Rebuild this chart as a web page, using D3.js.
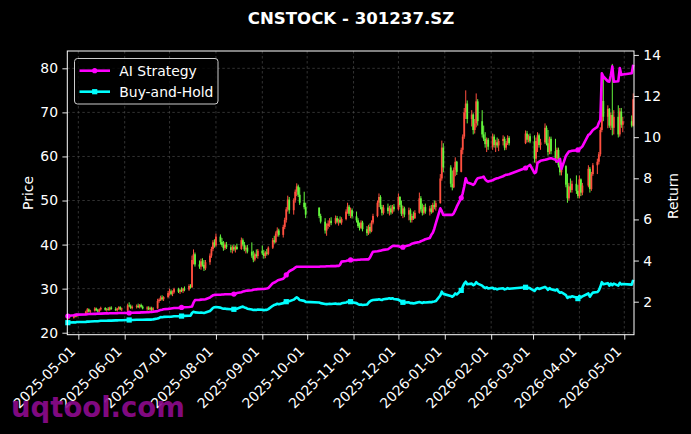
<!DOCTYPE html>
<html><head><meta charset="utf-8">
<script src="https://cdn.jsdelivr.net/npm/d3@7"></script>
<style>html,body{margin:0;padding:0;background:#000;}svg{display:block;}</style>
</head><body><svg id="c" width="691" height="434"></svg>
<script>
// ---------- DATA ----------
const titleText = "CNSTOCK - 301237.SZ";
const startDay = "2025-04-24";
const endDay = "2026-05-07";
const holidays = ["2025-05-01","2025-05-02","2025-05-05","2025-06-02",
  "2025-10-01","2025-10-02","2025-10-03","2025-10-06","2025-10-07","2025-10-08",
  "2026-01-01","2026-01-02","2026-02-16","2026-02-17","2026-02-18","2026-02-19","2026-02-20","2026-02-23",
  "2026-04-06","2026-05-01","2026-05-04","2026-05-05"];

const openP = [23.2,23.5,23.4,24.0,23.7,
 24.2,24.8,25.3,24.8,25.0,25.5,25.1,24.8,25.3,25.6,25.2,25.4,25.2,25.7,25.4,25.1,25.5,25.8,25.3,
 25.0,26.2,26.0,25.6,25.9,26.1,25.8,26.3,25.9,25.5,25.7,25.3,25.6,25.2,25.5,27.2,27.5,28.0,27.6,28.1,
 29.0,29.4,28.8,29.2,29.9,29.3,29.7,29.5,30.0,29.8,30.6,30.3,36.5,37.8,35.5,35.0,36.2,35.4,34.6,36.0,37.5,39.0,40.5,
 39.8,41.8,40.6,39.9,39.2,40.0,39.4,38.8,39.4,38.9,39.5,39.0,41.0,40.0,38.9,39.3,38.4,37.5,36.6,37.8,37.4,
 38.6,38.0,37.4,38.2,37.9,39.3,41.0,40.6,42.5,43.2,42.2,44.0,45.6,48.0,50.2,47.8,50.0,52.0,53.2,51.3,49.5,48.5,
 48.4,46.5,45.2,43.2,44.2,44.8,45.4,44.9,46.0,45.2,45.6,45.0,45.8,47.5,48.6,47.0,47.8,
 46.4,45.5,44.2,43.8,45.0,43.5,42.6,44.0,43.0,45.0,46.5,49.5,50.8,48.5,47.2,48.4,47.6,48.2,47.3,48.6,
 48.0,50.8,49.0,47.0,48.2,46.8,47.8,45.6,46.5,46.0,47.2,50.5,48.0,47.2,48.5,47.5,48.2,47.4,49.0,48.5,49.4,55.0,62.0,
 57.5,53.8,53.0,57.0,58.8,56.5,61.5,64.5,70.0,72.0,68.5,69.5,66.0,67.5,72.5,68.0,65.0,64.0,62.8,63.8,
 62.2,64.5,62.6,63.2,62.5,63.5,64.0,62.0,63.0,64.2,63.0,65.2,63.8,64.6,
 63.4,59.5,63.5,64.8,62.6,63.2,66.5,63.0,61.0,64.0,61.2,59.5,61.5,58.0,56.4,57.8,53.6,50.5,53.2,52.4,53.8,52.2,
 51.0,54.8,51.8,53.4,57.2,52.6,56.0,58.0,58.8,60.5,66.0,72.6,69.0,70.8,67.0,69.4,66.5,69.0,65.0,70.2,67.2,
 68.0,67.0];
const highP = [23.8,24.0,24.2,24.3,24.4,
 25.0,25.6,25.5,25.2,25.8,25.7,25.4,25.5,25.9,25.8,25.6,25.8,25.9,26.0,25.8,25.6,26.0,26.0,25.7,
 26.6,26.9,26.4,26.2,26.4,26.6,26.5,26.6,26.2,26.0,26.0,25.9,25.9,25.8,27.7,27.8,28.4,28.5,28.3,29.5,
 30.0,29.8,29.6,30.2,30.2,30.0,30.3,30.2,30.5,31.0,31.0,37.5,38.9,38.2,36.4,36.8,36.9,36.5,36.5,38.0,39.5,41.0,41.2,
 42.5,42.3,41.5,40.8,40.5,40.6,40.0,39.8,40.0,39.8,40.2,41.6,41.4,40.6,39.8,39.9,40.5,38.6,38.2,38.9,39.0,
 39.8,38.8,38.5,39.0,39.6,41.5,42.0,43.0,43.9,43.6,44.5,46.1,48.5,51.1,50.8,50.5,52.5,53.9,53.6,53.0,52.0,49.5,
 48.4,47.0,46.0,44.8,45.5,46.0,46.2,46.6,46.5,45.9,46.4,46.2,48.0,49.5,49.0,48.4,48.2,
 47.5,46.0,45.0,45.5,45.4,44.2,44.5,44.8,45.5,47.0,50.0,51.6,51.2,49.0,49.0,49.3,48.8,49.0,49.0,49.2,
 51.6,51.0,50.0,48.8,48.6,48.4,48.2,47.0,47.5,47.8,51.8,51.0,49.3,49.0,49.3,48.8,49.0,49.5,50.0,50.0,56.0,63.6,63.0,
 58.0,56.8,57.5,59.8,59.0,62.0,65.0,71.0,75.0,72.7,70.5,69.8,68.5,74.3,73.0,70.5,67.0,65.5,64.3,64.2,
 65.2,65.0,63.8,64.3,64.0,64.8,64.5,63.5,64.8,64.6,65.9,65.8,65.0,65.2,
 64.8,64.3,65.5,65.2,64.0,67.5,67.0,66.0,64.5,64.5,64.0,62.0,62.0,59.5,58.5,58.0,56.1,54.0,55.0,54.5,55.7,53.5,
 55.7,55.0,54.0,58.0,57.6,56.5,58.5,59.5,61.0,66.6,79.0,78.0,71.6,71.0,70.0,81.0,70.5,71.6,71.0,71.0,69.0,
 69.3,74.3];
const lowP = [22.9,23.2,23.2,23.5,23.5,
 24.0,24.5,24.6,24.4,24.8,24.9,24.6,24.6,25.0,25.0,24.8,25.0,25.0,25.2,24.9,24.8,25.2,25.1,24.9,
 24.5,25.8,25.4,25.3,25.5,25.6,25.5,25.7,25.3,25.0,25.1,25.0,24.9,24.9,25.4,26.8,27.2,27.3,27.2,27.8,
 28.4,28.5,28.3,28.9,29.0,28.8,29.2,29.0,29.4,29.5,30.0,30.2,35.5,35.0,34.5,34.3,35.0,34.0,34.2,35.4,37.0,38.5,39.3,
 39.5,40.0,39.5,38.6,38.8,39.0,38.2,38.0,38.5,38.2,38.8,38.8,39.6,38.5,38.0,38.0,37.0,36.0,36.2,37.0,36.8,
 37.6,36.8,36.9,37.5,37.6,39.0,40.2,40.3,41.8,41.8,41.6,43.5,45.0,47.5,47.0,46.8,49.5,51.0,50.8,49.0,48.0,46.0,
 46.0,44.8,42.5,42.0,43.6,44.0,44.4,44.6,44.8,44.3,44.8,44.5,45.5,47.0,46.5,46.0,45.9,
 45.0,43.8,43.2,43.5,43.0,42.0,42.2,42.5,42.8,44.6,46.2,48.5,48.0,46.6,46.8,47.0,46.6,46.8,47.0,47.5,
 47.7,48.5,46.5,46.0,46.2,45.5,45.0,45.0,45.6,45.8,47.0,47.5,46.6,46.8,47.0,46.6,47.0,47.2,48.0,47.7,49.3,54.5,56.4,
 53.0,52.3,52.8,55.5,55.8,56.4,60.5,64.0,68.5,67.5,66.8,65.0,65.2,66.6,67.0,64.3,63.5,62.0,61.0,61.5,
 61.5,62.0,61.0,62.0,61.2,62.5,61.4,61.5,62.6,62.5,62.8,63.2,63.2,63.0,
 58.6,58.4,61.0,62.0,61.5,62.8,62.5,60.2,60.5,60.5,58.6,59.0,57.5,55.7,55.7,53.0,49.5,50.0,51.8,51.8,51.5,50.5,
 50.5,51.0,51.2,53.0,51.8,52.2,55.6,56.0,58.2,60.0,65.5,68.0,66.4,66.5,66.0,64.8,65.0,64.3,64.5,66.5,65.5,
 66.6,66.8];
const closeP = [23.5,23.4,24.0,23.7,24.2,
 24.8,25.3,24.8,25.0,25.5,25.1,24.8,25.3,25.6,25.2,25.4,25.2,25.7,25.4,25.1,25.5,25.8,25.3,25.5,
 26.2,26.0,25.6,25.9,26.1,25.8,26.3,25.9,25.5,25.7,25.3,25.6,25.2,25.5,27.2,27.5,28.0,27.6,28.1,29.0,
 29.4,28.8,29.2,29.9,29.3,29.7,29.5,30.0,29.8,30.6,30.3,36.5,37.8,35.5,35.0,36.2,35.4,34.6,36.0,37.5,39.0,40.5,39.8,
 41.8,40.6,39.9,39.2,40.0,39.4,38.8,39.4,38.9,39.5,39.0,41.0,40.0,38.9,39.3,38.4,37.5,36.6,37.8,37.4,38.6,
 38.0,37.4,38.2,37.9,39.3,41.0,40.6,42.5,43.2,42.2,44.0,45.6,48.0,50.2,47.8,50.0,52.0,53.2,51.3,49.5,48.5,46.8,
 46.5,45.2,43.2,44.2,44.8,45.4,44.9,46.0,45.2,45.6,45.0,45.8,47.5,48.6,47.0,47.8,46.4,
 45.5,44.2,43.8,45.0,43.5,42.6,44.0,43.0,45.0,46.5,49.5,50.8,48.5,47.2,48.4,47.6,48.2,47.3,48.6,48.0,
 50.8,49.0,47.0,48.2,46.8,47.8,45.6,46.5,46.0,47.2,50.5,48.0,47.2,48.5,47.5,48.2,47.4,49.0,48.5,49.4,55.0,62.0,57.5,
 53.8,53.0,57.0,58.8,56.5,61.5,64.5,70.0,72.0,68.5,69.5,66.0,67.5,72.5,68.0,65.0,64.0,62.8,63.8,62.2,
 64.5,62.6,63.2,62.5,63.5,64.0,62.0,63.0,64.2,63.0,65.2,63.8,64.6,63.4,
 59.5,63.5,64.8,62.6,63.2,66.5,63.0,61.0,64.0,61.2,59.5,61.5,58.0,56.4,57.8,53.6,50.5,53.2,52.4,53.8,52.2,51.0,
 54.8,51.8,53.4,57.2,52.6,56.0,58.0,58.8,60.5,66.0,72.6,69.0,70.8,67.0,69.4,66.5,69.0,65.0,70.2,67.2,68.0,
 67.0,73.0];
const aiStrategy = [1.30,1.32,1.34,1.36,1.37,
 1.38,1.39,1.40,1.40,1.41,1.41,1.42,1.42,1.42,1.43,1.43,1.43,1.44,1.44,1.44,1.44,1.45,1.45,1.45,
 1.45,1.45,1.46,1.46,1.47,1.47,1.47,1.48,1.48,1.49,1.49,1.50,1.50,1.51,1.54,1.57,1.60,1.61,1.63,1.65,
 1.66,1.67,1.68,1.69,1.70,1.71,1.72,1.72,1.73,1.74,1.75,1.77,1.95,2.08,2.09,2.10,2.11,2.11,2.12,2.20,2.26,2.31,2.33,
 2.34,2.34,2.35,2.35,2.36,2.36,2.36,2.37,2.37,2.38,2.42,2.46,2.49,2.51,2.53,2.54,2.56,2.58,2.59,2.60,2.61,
 2.62,2.62,2.63,2.64,2.66,2.90,2.93,2.97,3.02,3.06,3.12,3.20,3.30,3.40,3.48,3.60,3.66,3.70,3.70,3.70,3.70,3.70,
 3.70,3.71,3.71,3.72,3.72,3.72,3.73,3.73,3.74,3.74,3.80,3.95,3.98,4.00,4.01,4.03,4.03,
 4.03,4.04,4.04,4.05,4.05,4.06,4.06,4.15,4.30,4.43,4.45,4.47,4.48,4.50,4.52,4.55,4.60,4.65,4.71,4.72,
 4.70,4.67,4.65,4.65,4.68,4.74,4.78,4.82,4.84,4.86,4.90,4.94,4.97,5.00,5.04,5.10,5.25,5.35,5.55,5.81,6.54,6.40,6.22,
 6.22,6.22,6.30,6.45,6.62,7.05,7.27,7.60,8.00,7.80,7.72,7.68,7.75,7.90,8.00,8.05,8.08,7.95,7.88,7.84,
 7.90,7.95,7.98,8.00,8.02,8.10,8.14,8.17,8.18,8.20,8.50,8.55,8.60,8.65,
 8.25,8.30,8.75,8.80,8.85,8.90,8.92,8.94,8.96,8.98,8.90,8.81,8.85,8.95,8.45,9.10,9.20,9.30,9.32,9.34,9.36,9.38,
 9.42,9.48,9.55,10.11,10.15,10.25,10.35,10.50,10.70,10.84,13.11,12.95,12.72,12.70,13.00,13.44,12.70,12.72,13.36,13.03,13.05,
 13.11,13.52];
const buyHold = [0.98,0.99,1.00,0.99,1.01,
 1.02,1.03,1.03,1.04,1.05,1.05,1.05,1.06,1.07,1.07,1.07,1.08,1.08,1.08,1.09,1.09,1.10,1.10,1.10,
 1.11,1.11,1.11,1.11,1.12,1.12,1.12,1.12,1.12,1.13,1.13,1.13,1.13,1.14,1.18,1.21,1.25,1.24,1.26,1.27,
 1.27,1.27,1.28,1.29,1.29,1.30,1.30,1.31,1.31,1.32,1.32,1.45,1.51,1.48,1.46,1.47,1.46,1.45,1.47,1.55,1.62,1.70,1.73,
 1.74,1.71,1.68,1.66,1.67,1.65,1.63,1.64,1.63,1.65,1.66,1.74,1.76,1.72,1.70,1.66,1.62,1.60,1.61,1.60,1.62,
 1.61,1.59,1.60,1.60,1.64,1.80,1.84,1.86,1.90,1.88,1.93,1.98,2.00,2.05,2.02,2.10,2.16,2.21,2.16,2.08,2.04,1.99,
 1.96,1.93,1.89,1.88,1.89,1.90,1.89,1.91,1.89,1.90,1.89,1.92,1.96,2.00,1.98,2.00,1.97,
 1.93,1.88,1.85,1.86,1.84,1.86,1.95,2.02,2.06,2.08,2.10,2.12,2.10,2.08,2.12,2.15,2.17,2.14,2.17,2.13,
 2.10,2.05,2.00,1.97,1.96,1.97,1.93,1.93,1.92,1.93,1.98,1.96,1.94,1.97,1.96,1.98,1.97,2.00,2.01,2.03,2.30,2.49,2.38,
 2.28,2.24,2.30,2.40,2.35,2.55,2.73,2.88,2.97,2.85,2.88,2.80,2.84,2.95,2.88,2.78,2.72,2.66,2.70,2.64,
 2.68,2.62,2.64,2.60,2.63,2.65,2.60,2.62,2.66,2.63,2.70,2.66,2.68,2.65,
 2.52,2.62,2.66,2.62,2.64,2.72,2.66,2.58,2.66,2.60,2.55,2.60,2.50,2.44,2.46,2.32,2.18,2.24,2.22,2.26,2.20,2.15,
 2.28,2.20,2.26,2.40,2.24,2.36,2.44,2.47,2.55,2.72,2.95,2.85,2.90,2.78,2.88,2.80,2.88,2.78,2.92,2.84,2.86,
 2.83,3.06];
const monthTicks = ["2025-05-01","2025-06-01","2025-07-01","2025-08-01","2025-09-01","2025-10-01","2025-11-01",
 "2025-12-01","2026-01-01","2026-02-01","2026-03-01","2026-04-01","2026-05-01"];
const priceTicks = [20,30,40,50,60,70,80];
const returnTicks = [2,4,6,8,10,12,14];
const seriesNames = ["AI Strategy","Buy-and-Hold"];
const markEvery = 25;

// ---------- BUILD ----------
const parse = d3.utcParse("%Y-%m-%d");
const dates = [];
for (let d = parse(startDay); d <= parse(endDay); d = d3.utcDay.offset(d, 1)) {
  const wd = d.getUTCDay();
  if (wd > 0 && wd < 6 && !holidays.includes(d3.utcFormat("%Y-%m-%d")(d))) dates.push(d);
}
const n = Math.min(dates.length, closeP.length);
const candles = d3.range(n).map(i => ({d: dates[i], o: openP[i], h: highP[i], l: lowP[i], c: closeP[i]}));

const L = 67.3, R = 634, T = 51, B = 334.7;
const FONT = "'DejaVu Sans', sans-serif";
const svg = d3.select("#c");
svg.append("rect").attr("width", 691).attr("height", 434).attr("fill", "#000");

const x = d3.scaleUtc().domain([new Date(Date.UTC(2025,3,23,15)), new Date(Date.UTC(2026,4,7,12))]).range([L, R]);
const yP = d3.scaleLinear().domain([19.55, 83.93]).range([B, T]);
const yR = d3.scaleLinear().domain([0.395, 14.19]).range([B, T]);
const tickDates = monthTicks.map(parse);

// grid
const grid = svg.append("g").attr("stroke", "#6a6a6a").attr("stroke-width", 0.6).attr("stroke-dasharray", "2.5,2.5").attr("opacity", 0.8);
grid.selectAll(".gv").data(tickDates).join("line")
  .attr("x1", d => x(d)).attr("x2", d => x(d)).attr("y1", T).attr("y2", B);
grid.selectAll(".gh").data(priceTicks).join("line")
  .attr("x1", L).attr("x2", R).attr("y1", d => yP(d)).attr("y2", d => yP(d));

// candles (red = up, green = down)
const up = "#ff4f3f", down = "#63f53c";
const cg = svg.append("g");
cg.selectAll("line").data(candles).join("line")
  .attr("x1", d => x(d.d)).attr("x2", d => x(d.d))
  .attr("y1", d => yP(d.h)).attr("y2", d => yP(d.l))
  .attr("stroke", d => d.c >= d.o ? up : down).attr("stroke-width", 1);
cg.selectAll("rect").data(candles).join("rect")
  .attr("x", d => x(d.d) - 0.9).attr("width", 1.8)
  .attr("y", d => yP(Math.max(d.o, d.c)))
  .attr("height", d => Math.max(0.8, Math.abs(yP(d.o) - yP(d.c))))
  .attr("fill", d => d.c >= d.o ? up : down);

// lines
const series = [
  {name: seriesNames[0], vals: aiStrategy, color: "#ff00ff", marker: "circle"},
  {name: seriesNames[1], vals: buyHold, color: "#00ffff", marker: "square"}
];
const line = d3.line().x(d => x(d.d)).y(d => yR(d.v));
series.forEach(s => {
  const pts = d3.range(n).map(i => ({d: dates[i], v: s.vals[i]}));
  svg.append("path").datum(pts).attr("d", line).attr("fill", "none")
    .attr("stroke", s.color).attr("stroke-width", 2.6).attr("stroke-linejoin", "round");
  const mk = pts.filter((p, i) => i % markEvery === 0);
  if (s.marker === "circle") {
    svg.append("g").selectAll("circle").data(mk).join("circle")
      .attr("cx", d => x(d.d)).attr("cy", d => yR(d.v)).attr("r", 2.6).attr("fill", s.color);
  } else {
    svg.append("g").selectAll("rect").data(mk).join("rect")
      .attr("x", d => x(d.d) - 2.6).attr("y", d => yR(d.v) - 2.6).attr("width", 5.2).attr("height", 5.2).attr("fill", s.color);
  }
});

// frame
svg.append("rect").attr("x", L).attr("y", T).attr("width", R - L).attr("height", B - T)
  .attr("fill", "none").attr("stroke", "#fff").attr("stroke-width", 1);

// axes
function styleAxis(g) {
  g.select(".domain").remove();
  g.selectAll(".tick line").attr("stroke", "#fff").attr("stroke-width", 0.9);
  g.selectAll(".tick text").attr("fill", "#fff").attr("font-family", FONT).attr("font-size", "13.9px");
}
const xa = svg.append("g").attr("transform", `translate(0,${B})`)
  .call(d3.axisBottom(x).tickValues(tickDates).tickFormat(d3.utcFormat("%Y-%m-%d")).tickSize(4.9).tickPadding(4.9));
styleAxis(xa);
xa.selectAll(".tick text").attr("x", 0).attr("y", 0).attr("dy", null)
  .attr("text-anchor", "end").attr("transform", "translate(-2.5,17.5) rotate(-45)");

const ya = svg.append("g").attr("transform", `translate(${L},0)`)
  .call(d3.axisLeft(yP).tickValues(priceTicks).tickSize(4.9).tickPadding(4.4));
styleAxis(ya);
const yra = svg.append("g").attr("transform", `translate(${R},0)`)
  .call(d3.axisRight(yR).tickValues(returnTicks).tickSize(4.9).tickPadding(4.4));
styleAxis(yra);

// axis labels
svg.append("text").attr("transform", "translate(28,193) rotate(-90)").attr("text-anchor", "middle")
  .attr("dominant-baseline", "central").attr("fill", "#fff").attr("font-family", FONT).attr("font-size", "13.9px").text("Price");
svg.append("text").attr("transform", "translate(673,196) rotate(-90)").attr("text-anchor", "middle")
  .attr("dominant-baseline", "central").attr("fill", "#fff").attr("font-family", FONT).attr("font-size", "13.9px").text("Return");

// title
svg.append("text").attr("x", 351).attr("y", 23.5).attr("text-anchor", "middle")
  .attr("fill", "#fff").attr("font-family", FONT).attr("font-weight", "bold").attr("font-size", "16.6px").text(titleText);

// legend
const lg = svg.append("g");
lg.append("rect").attr("x", 74.5).attr("y", 58.5).attr("width", 143.5).attr("height", 45.5).attr("rx", 3)
  .attr("fill", "#000").attr("fill-opacity", 0.8).attr("stroke", "#cccccc").attr("stroke-width", 1);
series.forEach((s, i) => {
  const yy = 70.7 + i * 21;
  lg.append("line").attr("x1", 79.5).attr("x2", 110).attr("y1", yy).attr("y2", yy).attr("stroke", s.color).attr("stroke-width", 2.6);
  if (s.marker === "circle") lg.append("circle").attr("cx", 94.7).attr("cy", yy).attr("r", 2.6).attr("fill", s.color);
  else lg.append("rect").attr("x", 94.7 - 2.6).attr("y", yy - 2.6).attr("width", 5.2).attr("height", 5.2).attr("fill", s.color);
  lg.append("text").attr("x", 119.3).attr("y", yy).attr("dominant-baseline", "central")
    .attr("fill", "#fff").attr("font-family", FONT).attr("font-size", "13.9px").text(s.name);
});

// watermark
svg.append("text").attr("x", 11).attr("y", 417).attr("fill", "#8e0b8e").attr("fill-opacity", 0.92)
  .attr("font-family", FONT).attr("font-weight", "bold").attr("font-size", "27.5px").text("uqtool.com");
</script></body></html>
